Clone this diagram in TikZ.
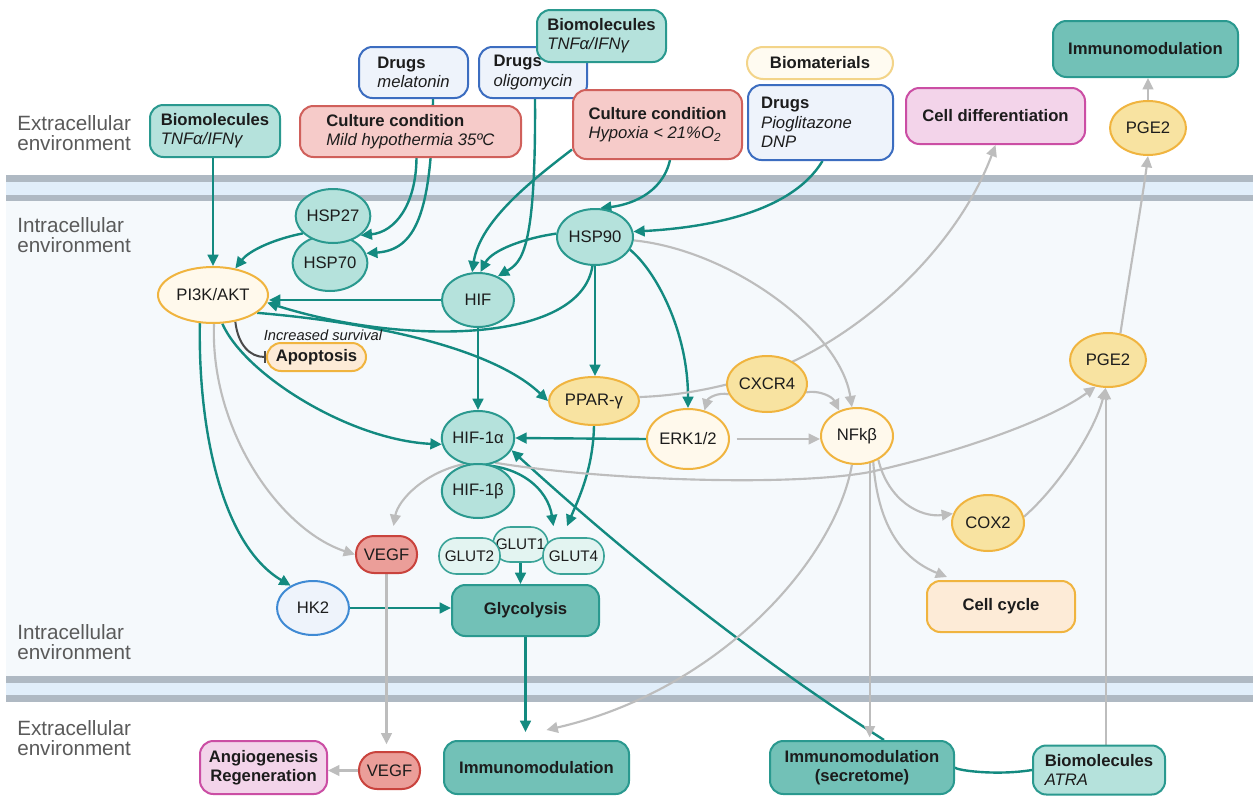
\documentclass[tikz,border=0pt]{standalone}
\usepackage{fontspec}
\setmainfont{Liberation Sans}
\usetikzlibrary{arrows.meta,shapes.geometric,calc}
\pgfdeclarelayer{bg}
\pgfdeclarelayer{edges}
\pgfsetlayers{bg,edges,main}
\definecolor{ink}{HTML}{1C1C1C}
\definecolor{envtxt}{HTML}{5A5A5A}
\definecolor{tealline}{HTML}{138A80}
\definecolor{tealfill}{HTML}{B5E2DC}
\definecolor{tealbord}{HTML}{2A998F}
\definecolor{tealdark}{HTML}{72C1B7}
\definecolor{redfill}{HTML}{F6CBC9}
\definecolor{redbord}{HTML}{D0605B}
\definecolor{vegffill}{HTML}{EB9E99}
\definecolor{vegfbord}{HTML}{C9433D}
\definecolor{bluefill}{HTML}{EEF3FB}
\definecolor{bluebord}{HTML}{3C6DC0}
\definecolor{hkbord}{HTML}{3F8AD4}
\definecolor{yelfill}{HTML}{F8E3A1}
\definecolor{yelbord}{HTML}{F0B43F}
\definecolor{creamfill}{HTML}{FFF9EC}
\definecolor{orfill}{HTML}{FDEBD7}
\definecolor{pinkfill}{HTML}{F3D4EA}
\definecolor{pinkbord}{HTML}{CB4EA4}
\definecolor{matfill}{HTML}{FFFBF1}
\definecolor{matbord}{HTML}{F3D489}
\definecolor{glutfill}{HTML}{E3F4F1}
\definecolor{glutbord}{HTML}{3AA398}
\definecolor{grayline}{HTML}{BDBDBD}
\definecolor{memgray}{HTML}{AFB9C3}
\definecolor{memblue}{HTML}{E1EEFA}
\definecolor{intra}{HTML}{F5F9FC}
\definecolor{inhib}{HTML}{4A4A4A}
\tikzset{
  nodetext/.style={font=\fontsize{12.5}{14.5}\selectfont, text=ink, inner sep=0pt, align=center},
  sz/.style 2 args={minimum width=#1*0.75pt, minimum height=#2*0.75pt},
  rbox/.style={nodetext, rectangle, rounded corners=10pt, line width=1.5pt},
  oval/.style={nodetext, ellipse, line width=1.5pt},
  glut/.style={rbox, fill=glutfill, draw=glutbord, rounded corners=13pt, line width=1.2pt, font=\fontsize{11.5}{13}\selectfont},
  envlabel/.style={font=\fontsize{15.5}{15.5}\selectfont, text=envtxt, align=left, inner sep=0pt, anchor=west},
  survlabel/.style={font=\fontsize{11}{13}\selectfont\itshape, text=ink, inner sep=0pt},
  tline/.style={draw=tealline, line width=1.8pt},
  tarrow/.style={tline, -{Triangle[length=8.5pt,width=8pt]}},
  garrow/.style={draw=grayline, line width=1.6pt, -{Triangle[length=8.5pt,width=8pt]}},
  inh/.style={draw=inhib, line width=1.5pt, -{Bar[width=9pt,line width=1.5pt]}}
}
\begin{document}
\begin{tikzpicture}[x=0.75pt,y=-0.75pt]
\useasboundingbox (0,0) rectangle (1253,796);
\begin{pgfonlayer}{bg}
\fill[white] (0,0) rectangle (1253,796);
\fill[intra] (6,200) rectangle (1253,677);
\fill[memgray] (6,175) rectangle (1253,182);
\fill[memblue] (6,182) rectangle (1253,195);
\fill[memgray] (6,195) rectangle (1253,201);
\fill[memgray] (6,676) rectangle (1253,683);
\fill[memblue] (6,683) rectangle (1253,695);
\fill[memgray] (6,695) rectangle (1253,702);
\end{pgfonlayer}

% environment labels
\node[envlabel] (ext1) at (17,133) {Extracellular\\environment};
\node[envlabel] (int1) at (17,235) {Intracellular\\environment};
\node[envlabel] (int2) at (17,642) {Intracellular\\environment};
\node[envlabel] (ext2) at (17,738) {Extracellular\\environment};

% extracellular top
\node[rbox, fill=tealfill, draw=tealbord, sz={130}{52}, align=left] (bio1) at (215,131) {\textbf{Biomolecules}\\\textit{TNFα/IFNγ}};
\node[rbox, fill=bluefill, draw=bluebord, sz={109}{51}, align=left] (mel) at (413.5,72.5) {\textbf{Drugs}\\\textit{melatonin}};
\node[rbox, fill=redfill, draw=redbord, sz={221}{51}, align=left] (cold) at (410.5,131.5) {\textbf{Culture condition}\\\textit{Mild hypothermia 35ºC}};
\node[rbox, fill=bluefill, draw=bluebord, sz={108}{51}, align=left] (oligo) at (533,72.5) {\textbf{Drugs}\\\textit{oligomycin}};
\node[rbox, fill=tealfill, draw=tealbord, sz={129}{52}, align=left] (bio2) at (601.5,36) {\textbf{Biomolecules}\\\textit{TNFα/IFNγ}};
\node[rbox, fill=redfill, draw=redbord, sz={169}{69}, align=left] (hypo) at (657.5,124.5) {\textbf{Culture condition}\\\textit{Hypoxia < 21\%O\textsubscript{2}}};
\node[rbox, fill=matfill, draw=matbord, sz={146}{32}, rounded corners=12pt] (biomat) at (820,63) {\textbf{Biomaterials}};
\node[rbox, fill=bluefill, draw=bluebord, sz={145}{75}, align=left, text width=89pt] (pio) at (820.5,122.5) {\textbf{Drugs}\\\textit{Pioglitazone}\\\textit{DNP}};
\node[rbox, fill=pinkfill, draw=pinkbord, sz={179}{56}] (celldiff) at (995.5,116) {\textbf{Cell differentiation}};
\node[rbox, fill=tealdark, draw=tealbord, sz={185}{56}] (immtop) at (1145.5,49) {\textbf{Immunomodulation}};
\node[oval, fill=yelfill, draw=yelbord, sz={76}{54}] (pge2top) at (1148,128) {PGE2};

% intracellular
\node[oval, fill=tealfill, draw=tealbord, sz={74}{56}] (hsp70) at (330,263) {HSP70};
\node[oval, fill=tealfill, draw=tealbord, sz={74}{54}] (hsp27) at (333,216) {HSP27};
\node[oval, fill=tealfill, draw=tealbord, sz={76}{56}] (hsp90) at (595,237) {HSP90};
\node[oval, fill=creamfill, draw=yelbord, sz={110}{56}] (pi3k) at (213,295) {PI3K/AKT};
\node[oval, fill=tealfill, draw=tealbord, sz={72}{54}] (hif) at (478,300) {HIF};
\node[rbox, fill=orfill, draw=yelbord, sz={99}{28}, rounded corners=10.5pt] (apop) at (316.5,357) {\textbf{Apoptosis}};
\node[survlabel] (surv) at (323,335) {Increased survival};
\node[oval, fill=yelfill, draw=yelbord, sz={90}{48}] (ppar) at (594,401) {PPAR-γ};
\node[oval, fill=yelfill, draw=yelbord, sz={76}{56}] (cxcr4) at (767,384) {CXCR4};
\node[oval, fill=creamfill, draw=yelbord, sz={82}{60}] (erk) at (688,439) {ERK1/2};
\node[oval, fill=creamfill, draw=yelbord, sz={72}{56}] (nfkb) at (857,436) {NFkβ};
\node[oval, fill=tealfill, draw=tealbord, sz={72}{54}] (hif1a) at (478,438) {HIF-1α};
\node[oval, fill=tealfill, draw=tealbord, sz={72}{54}] (hif1b) at (478,491) {HIF-1β};
\node[oval, fill=yelfill, draw=yelbord, sz={76}{54}] (pge2mid) at (1108,360) {PGE2};
\node[oval, fill=yelfill, draw=yelbord, sz={72}{56}] (cox2) at (988,523) {COX2};
\node[rbox, fill=vegffill, draw=vegfbord, sz={61}{37}, rounded corners=13.5pt] (vegf1) at (386.5,554.5) {VEGF};
\node[glut, sz={55}{35}] (glut1) at (520.5,544.5) {GLUT1};
\node[glut, sz={61}{36}] (glut2) at (469.5,556) {GLUT2};
\node[glut, sz={61}{36}] (glut4) at (573.5,556) {GLUT4};
\node[rbox, fill=tealdark, draw=tealbord, sz={147}{51}] (glycolysis) at (525.5,610.5) {\textbf{Glycolysis}};
\node[oval, fill=bluefill, draw=hkbord, sz={72}{54}] (hk2) at (313,608) {HK2};
\node[rbox, fill=orfill, draw=yelbord, sz={148}{51}] (cellcycle) at (1001,606.5) {\textbf{Cell cycle}};

% extracellular bottom
\node[rbox, fill=pinkfill, draw=pinkbord, sz={127}{53}] (angio) at (263.5,767.5) {\textbf{Angiogenesis}\\\textbf{Regeneration}};
\node[rbox, fill=vegffill, draw=vegfbord, sz={61}{37}, rounded corners=13.5pt] (vegf2) at (389.5,770.5) {VEGF};
\node[rbox, fill=tealdark, draw=tealbord, sz={185}{53}] (immbot) at (536.5,767.5) {\textbf{Immunomodulation}};
\node[rbox, fill=tealdark, draw=tealbord, sz={184}{53}] (secretome) at (862,767.5) {\textbf{Immunomodulation}\\\textbf{(secretome)}};
\node[rbox, fill=tealfill, draw=tealbord, sz={132}{49}, align=left] (atra) at (1099,770) {\textbf{Biomolecules}\\\textit{ATRA}};

\begin{pgfonlayer}{edges}
% teal connectors
\draw[tarrow] (bio1.south -| pi3k.north) -- (pi3k.north);
\draw[tarrow] (hsp27.210) .. controls (270,240) and (248,252) .. (pi3k.50);
\draw[tarrow] ($(cold.south)+(6,0)$) .. controls (416,205) and (395,232) .. (hsp27.-35);
\draw[tarrow] ($(mel.south)+(19.5,0)$) .. controls (432,215) and (415,250) .. (hsp70.15);
\draw[tarrow] ($(hypo.west)+(0,25)$) .. controls (535,178) and (480,220) .. (hif.102);
\draw[tarrow] ($(hypo.south)+(12.5,0)$) .. controls (662,195) and (628,205) .. (hsp90.80);
\draw[tarrow] ($(oligo.south)+(2,0)$) .. controls (536,250) and (522,262) .. (hif.50);
\draw[tarrow] (hsp90.175) .. controls (525,238) and (492,250) .. (hif.85);
\draw[tarrow] ($(pio.south)+(2,0)$) .. controls (790,215) and (700,228) .. (hsp90.8);
\draw[tarrow] (hif.west) -- (pi3k.east |- hif.west);
\draw[tarrow] (hsp90.265) .. controls (580,345) and (400,345) .. (pi3k.-8);
\draw[tarrow] (pi3k.-22) .. controls (400,325) and (500,355) .. (ppar.west);
\draw[tarrow] (pi3k.-72) .. controls (245,375) and (350,440) .. (hif1a.190);
\draw[tarrow] (pi3k.-115) .. controls (198,430) and (222,545) .. (hk2.135);
\draw[tarrow] (hif.south) -- (hif1a.north);
\draw[tarrow] (hsp90.south) -- (hsp90.south |- ppar.north);
\draw[tarrow] (hsp90.-20) .. controls (655,270) and (688,330) .. (erk.north);
\draw[tarrow] (erk.west) -- (hif1a.east);
\draw[tarrow] (ppar.south) .. controls (593,470) and (578,500) .. ($(glut4.north)+(-6.5,-11)$);
\draw[tarrow] (hif1a.-110) .. controls (520,462) and (548,490) .. ($(glut4.north)+(-20,-11)$);
\draw[tarrow] (glut1.south) -- (glut1.south |- glycolysis.north);
\draw[tarrow] (hk2.east) -- (glycolysis.west |- hk2.east);
\draw[tarrow, shorten >=6pt] (glycolysis.south) -- (glycolysis.south |- immbot.north);
\draw[tline] (atra.west) .. controls (995,776) and (955,770) .. (secretome.east);
\draw[tarrow] ($(secretome.north)+(22,0)$) .. controls (759,660) and (635,563) .. (hif1a.-20);
% inhibition
\draw[inh] (pi3k.-50) .. controls (238,345) and (250,357) .. (apop.west);
% gray connectors
\draw[garrow] (hsp90.-5) .. controls (730,250) and (840,330) .. (nfkb.100);
\draw[garrow] (ppar.5) .. controls (700,395) and (760,378) .. (800,358) .. controls (880,318) and (960,240) .. (celldiff.south);
\draw[garrow] (cxcr4.195) .. controls (718,392) and (708,398) .. (erk.60);
\draw[garrow] (cxcr4.-12) .. controls (818,390) and (832,396) .. (nfkb.125);
\draw[garrow, shorten <=5pt] (erk.east) -- (nfkb.west |- erk.east);
\draw[garrow] (hif1a.-55) .. controls (600,480) and (790,487) .. (870,472) .. controls (960,452) and (1050,420) .. (pge2mid.-115);
\draw[garrow] (hif1a.-118) .. controls (425,472) and (398,500) .. ($(vegf1.north)+(7,-9)$);
\draw[garrow] (pi3k.-88) .. controls (210,430) and (280,530) .. (vegf1.west);
\draw[garrow, shorten >=5pt] (vegf1.south) -- (vegf1.south |- vegf2.north);
\draw[garrow] (vegf2.west) -- (angio.east |- vegf2.west);
\draw[garrow] (nfkb.-100) .. controls (835,560) and (720,690) .. ($(immbot.north)+(10,-10)$);
\draw[garrow, shorten >=2pt] (nfkb.-65) -- (nfkb.-65 |- secretome.north);
\draw[garrow] (nfkb.-48) .. controls (888,500) and (920,518) .. (cox2.165);
\draw[garrow] (nfkb.-58) .. controls (878,530) and (905,560) .. ($(cellcycle.north)+(-54,-3)$);
\draw[garrow] (cox2.10) .. controls (1060,485) and (1095,430) .. (pge2mid.-95);
\draw[garrow] (pge2mid.-95 |- atra.north) -- (pge2mid.-95);
\draw[garrow] (pge2mid.65) .. controls (1130,270) and (1143,195) .. (pge2top.south);
\draw[garrow] (pge2top.north) -- (pge2top.north |- immtop.south);
\end{pgfonlayer}
\end{tikzpicture}
\end{document}
